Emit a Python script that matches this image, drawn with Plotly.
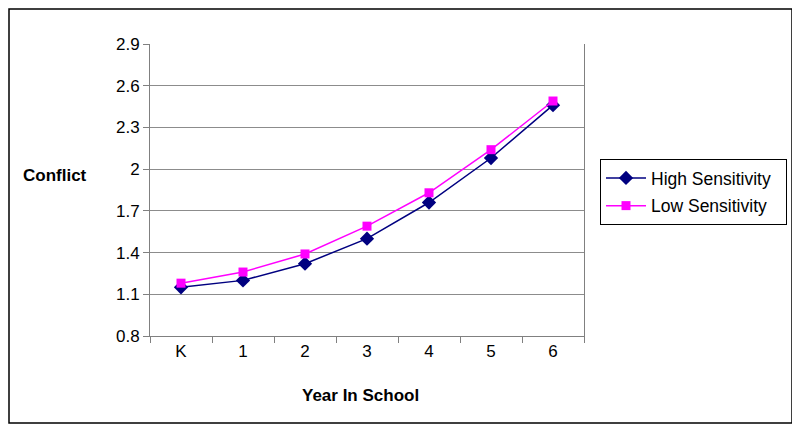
import plotly.graph_objects as go

# data
years = ["K", "1", "2", "3", "4", "5", "6"]
high_sensitivity = [1.15, 1.20, 1.32, 1.50, 1.76, 2.08, 2.46]
low_sensitivity = [1.18, 1.26, 1.39, 1.59, 1.83, 2.14, 2.49]

fnt = "Arial, Liberation Sans, sans-serif"

# the page puts the figure 8px in from the corner, so pixel targets are shifted by 8
L, T, W, H = 142, 36, 434, 292


def px(x):
    return (x - 8 - L) / W


def py(y):
    return (T + H - (y - 8)) / H


fig = go.Figure()

fig.add_trace(go.Scatter(
    x=years, y=high_sensitivity,
    name="High Sensitivity\u00a0\u00a0",
    legendgroup="high",
    mode="lines+markers",
    line=dict(color="#000080", width=1.5),
    marker=dict(symbol="diamond", size=11, color="#000080"),
))
fig.add_trace(go.Scatter(
    x=years, y=low_sensitivity,
    name="Low Sensitivity",
    legendgroup="low",
    mode="lines+markers",
    line=dict(color="#FF00FF", width=1.5),
    marker=dict(symbol="square", size=9, color="#FF00FF"),
))

fig.update_xaxes(
    type="category",
    range=[-0.5, 6.5],
    tickson="boundaries",
    ticks="outside",
    ticklen=6,
    tickcolor="#808080",
    showgrid=False,
    showline=True,
    linecolor="#808080",
    linewidth=1,
    tickfont=dict(family=fnt, size=17, color="black"),
)

fig.update_yaxes(
    range=[0.8, 2.9],
    tick0=0.8,
    dtick=0.3,
    ticks="outside",
    ticklen=6,
    tickcolor="#808080",
    showgrid=True,
    gridcolor="#8c8c8c",
    gridwidth=1,
    zeroline=False,
    showline=True,
    linecolor="#808080",
    linewidth=1,
    mirror=True,
    tickfont=dict(family=fnt, size=17, color="black"),
)

# outer frame
fig.add_shape(type="rect", xref="paper", yref="paper",
              x0=px(9), x1=px(792),
              y0=py(423), y1=py(9),
              line=dict(color="black", width=1.5))

# axis titles
fig.add_annotation(text="<b>Conflict</b>", xref="paper", yref="paper",
                   x=px(55), y=py(175), xanchor="center", yanchor="middle",
                   showarrow=False, font=dict(family=fnt, size=17, color="black"))
fig.add_annotation(text="<b>Year In School</b>", xref="paper", yref="paper",
                   x=px(360), y=py(395), xanchor="center", yanchor="middle",
                   showarrow=False, font=dict(family=fnt, size=17, color="black"))

fig.update_layout(
    width=800, height=431,
    margin=dict(l=L, r=800 - L - W, t=T, b=431 - T - H),
    plot_bgcolor="white",
    paper_bgcolor="white",
    showlegend=True,
    legend=dict(
        x=px(600), y=py(159),
        xanchor="left", yanchor="top",
        bordercolor="black", borderwidth=1,
        bgcolor="white",
        font=dict(family=fnt, size=17.5, color="black"),
        tracegroupgap=2,
        itemwidth=40,
    ),
)

fig.write_html("out.html")
